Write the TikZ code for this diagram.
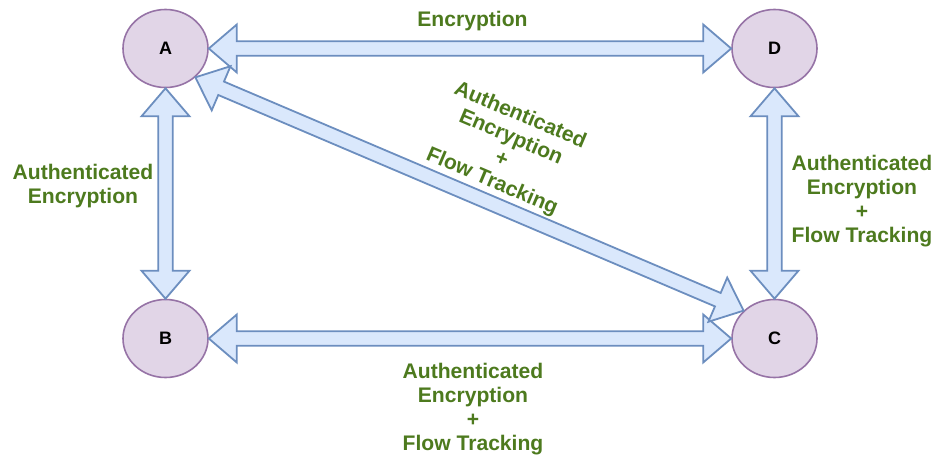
\documentclass[tikz,border=0pt]{standalone}
\usepackage{fontspec}
\setmainfont{Liberation Sans}
\usetikzlibrary{calc,shapes.geometric}

\definecolor{nodefill}{HTML}{E1D5E7}
\definecolor{nodeline}{HTML}{9673A6}
\definecolor{arrowfill}{HTML}{DAE8FC}
\definecolor{arrowline}{HTML}{6C8EBF}
\definecolor{labelgreen}{RGB}{77,122,30}

% geometry of the hollow double-headed arrows
\newcommand\headlen{28pt}
\newcommand\headhalf{24pt}
\newcommand\shafthalf{7.3pt}

% hollow double-headed arrow between two anchors
\newcommand\dblarrow[2]{%
  \path[flexarrow] let \p1=($(#2)-(#1)$), \n1={atan2(\y1,\x1)} in
    (#1)
    -- ($(#1)+(\n1:\headlen)+(\n1+90:\headhalf)$)
    -- ($(#1)+(\n1:\headlen)+(\n1+90:\shafthalf)$)
    -- ($(#2)+(\n1+180:\headlen)+(\n1+90:\shafthalf)$)
    -- ($(#2)+(\n1+180:\headlen)+(\n1+90:\headhalf)$)
    -- (#2)
    -- ($(#2)+(\n1+180:\headlen)+(\n1-90:\headhalf)$)
    -- ($(#2)+(\n1+180:\headlen)+(\n1-90:\shafthalf)$)
    -- ($(#1)+(\n1:\headlen)+(\n1-90:\shafthalf)$)
    -- ($(#1)+(\n1:\headlen)+(\n1-90:\headhalf)$)
    -- cycle;%
}

\tikzset{
  host/.style={ellipse, draw=nodeline, fill=nodefill, line width=1.6pt,
    minimum width=85pt, minimum height=78pt, inner sep=0pt,
    font=\fontsize{18}{20}\selectfont\bfseries},
  flexarrow/.style={draw=arrowline, fill=arrowfill, line width=1.8pt, line join=miter},
  linklabel/.style={text=labelgreen, align=center, inner sep=0pt,
    font=\fontsize{21.1}{24}\selectfont\bfseries},
}

\begin{document}
\begin{tikzpicture}[x=1pt, y=-1pt]
  \useasboundingbox (0,0) rectangle (937,455);

  % hosts
  \node[host] (A) at (165.5,48.5) {A};
  \node[host] (D) at (774.5,48.5) {D};
  \node[host] (B) at (165.5,338.5) {B};
  \node[host] (C) at (774.5,338.5) {C};

  % links
  \dblarrow{A.east}{D.west}
  \dblarrow{A.south}{B.north}
  \dblarrow{D.south}{C.north}
  \dblarrow{B.east}{C.west}
  \dblarrow{A.-44}{C.138}

  % link labels
  \node[linklabel] (lAD) at (472.5,21) {Encryption};
  \node[linklabel] (lAB) at (83,186) {Authenticated\\Encryption};
  \node[linklabel] (lDC) at (862,201) {Authenticated\\Encryption\\+\\Flow Tracking};
  \node[linklabel] (lBC) at (473,409) {Authenticated\\Encryption\\+\\Flow Tracking};
  \node[linklabel, rotate=-23] (lAC) at (506,149) {Authenticated\\Encryption\\+\\Flow Tracking};
\end{tikzpicture}
\end{document}
